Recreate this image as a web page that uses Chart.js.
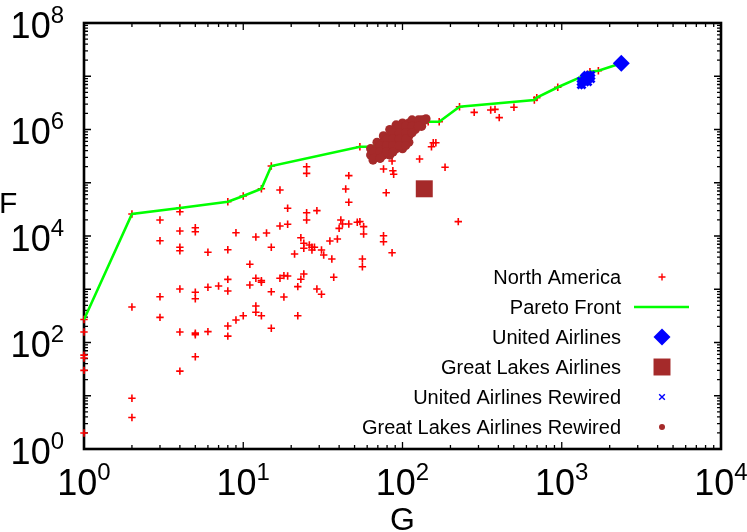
<!DOCTYPE html>
<html>
<head>
<meta charset="utf-8">
<script src="https://cdn.jsdelivr.net/npm/chart.js@4/dist/chart.umd.min.js"></script>
<style>
html,body{margin:0;padding:0;background:#fff;}
canvas{display:block;}
</style>
</head>
<body>
<canvas id="c" width="747" height="532"></canvas>
<script>
// ---- data (G = x, F = y) ----
const northAmericaG = [1,1,1,1,1,1, 2,2,2,2, 3,3,3,3, 4,4,4,4,4,4,4,4, 5,5,5,5,5,5,5, 6,6,6, 7, 8,8,8,8,8,8, 9,9, 10,10, 11,11, 12,12,12,12, 13,13,13,13, 14, 15,15,15,15, 17,17,17, 18,18, 19,19,19, 21, 22,22, 23,23, 24,24,24, 25,25,25,25, 26, 27,27, 28, 29,29, 31,31, 32, 35, 36, 37, 39, 40, 41, 42, 44, 46,46,46, 52, 54,54, 56,56, 57,57, 76,76,76, 79, 86,86, 87, 88, 128, 145, 152, 156, 162, 170, 185, 224, 228, 282, 358, 381, 405, 501, 673, 697, 944, 1503, 1698];
const northAmericaF = [270,157,58,51,30,2, 25900,464,9,3.9, 20000,8160,724,297, 33500,28600,12400,6130,5300,1010,157,29, 14300,12000,877,665,150,140,54, 4940,1090,160, 1150, 44000,5530,1530,927,204,132, 11500,265, 56400,318, 2940,1200, 9570,1610,485,369, 77300,1450,1350,318, 11400, 206000,6130,900,185, 73100,15400,1610, 1800,715, 33100,16600,1770, 4590, 1120,318, 9290,1540, 7290,5870,1930, 200000,150000,27400,20000, 6780, 6130,5460, 6130, 29900,1010, 5460,804, 4400, 8060, 3700, 1680, 8790, 13900, 20000, 16800, 76300, 136000,42900,16800, 18100, 475000,18600, 3700,2650, 15000,10900, 181000,10100,7820, 65000, 256000,4860, 168000, 144000, 279000, 1400000, 475000, 565000, 565000, 1400000, 195000, 18600, 2680000, 2100000, 2320000, 2390000, 1670000, 2610000, 3580000, 3960000, 6210000, 12200000, 12700000];

const paretoG = [1, 2, 4, 8, 10, 13, 15, 54, 64, 145, 170, 228, 673, 697, 944, 1302, 1503, 1698, 2365];
const paretoF = [270, 25900, 33500, 44000, 56400, 77300, 206000, 475000, 475000, 1400000, 1400000, 2680000, 3580000, 3960000, 6210000, 9550000, 12200000, 12700000, 17500000];

const unitedG = [2365];
const unitedF = [17500000];

const greatLakesG = [137];
const greatLakesF = [77000];

const unitedRewiredG = [1302,1302,1302, 1360,1360,1360,1360, 1420,1420,1420,1420, 1483,1483,1483,1483, 1549,1549,1549,
                        1330,1330, 1390,1390,1390, 1451,1451,1451, 1515,1515];
const unitedRewiredF = [8500000,7470000,6560000, 9680000,8500000,7470000,6560000, 11000000,9680000,8500000,7470000, 11000000,9680000,8500000,7470000, 11000000,9680000,8500000,
                        8000000,7000000, 10300000,9070000,7970000, 10300000,9070000,7970000, 10300000,9070000];

const greatLakesRewiredG = [63.1,63.1, 65.3, 69.2,69.2,69.2, 72.2, 75.9,75.9,75.9,75.9, 83.2,83.2,83.2,83.2,83.2, 91.2,91.2,91.2,91.2,91.2, 100,100,100,100,100, 109.6,109.6,109.6,109.6, 120.2,120.2, 131.8,131.8, 140.5,
                            66.1,66.1, 72.4,72.4,72.4, 79.4,79.4,79.4, 87.1,87.1,87.1,87.1, 95.5,95.5,95.5,95.5, 104.7,104.7,104.7,104.7, 114.8,114.8,114.8, 125.9,125.9, 138];
const greatLakesRewiredF = [437000,331000, 267000, 575000,437000,331000, 292000, 759000,575000,437000,331000, 1000000,759000,575000,437000,331000, 1220000,1000000,759000,575000,437000, 1320000,1000000,759000,575000,437000, 1320000,1000000,759000,575000, 1320000,1000000, 1510000,1148000, 1590000,
                            380000,288000, 501000,380000,288000, 661000,501000,380000, 871000,661000,501000,380000, 1148000,871000,661000,501000, 1148000,871000,661000,501000, 1514000,1148000,871000, 1514000,1148000, 1514000];

const seriesNames = ['North America', 'Pareto Front', 'United Airlines', 'Great Lakes Airlines', 'United Airlines Rewired', 'Great Lakes Airlines Rewired'];
const xTickPowers = [0, 1, 2, 3, 4];
const yTickPowers = [0, 2, 4, 6, 8];
const xTitle = 'G';
const yTitle = 'F';

// ---- build ----
const pts = (gs, fs) => gs.map((g, i) => ({x: g, y: fs[i]}));
const FONT = '"Liberation Sans", Arial, Helvetica, sans-serif';
const RED = '#ff0000', GREEN = '#00ff00', BLUE = '#0000ff', BROWN = '#a52a2a';

const legendMarkers = [
  {kind: 'point', style: 'cross', radius: 3.5, width: 1.4, color: RED},
  {kind: 'line', color: GREEN, width: 2.5},
  {kind: 'point', style: 'rectRot', radius: 8.5, width: 0, color: BLUE},
  {kind: 'point', style: 'rect', radius: 12, width: 0, color: BROWN},
  {kind: 'point', style: 'crossRot', radius: 4, width: 1.4, color: BLUE},
  {kind: 'point', style: 'circle', radius: 3, width: 0, color: BROWN}
];

function drawPow(ctx, exp, x, baseY, align) {
  const big = '10', small = String(exp);
  ctx.font = '36px ' + FONT;
  const wb = ctx.measureText(big).width;
  ctx.font = '24px ' + FONT;
  const ws = ctx.measureText(small).width;
  const total = wb + ws;
  const sx = align === 'center' ? x - total / 2 : x - total;
  ctx.textAlign = 'left';
  ctx.textBaseline = 'alphabetic';
  ctx.font = '36px ' + FONT;
  ctx.fillText(big, sx, baseY);
  ctx.font = '24px ' + FONT;
  ctx.fillText(small, sx + wb, baseY - 15);
}

const gnuplotLook = {
  id: 'gnuplotLook',
  beforeDatasetsDraw(chart) {
    const {ctx, chartArea: a, scales} = chart;
    const xs = scales.x, ys = scales.y;
    ctx.save();
    ctx.strokeStyle = '#000';
    ctx.lineWidth = 1.3;
    ctx.beginPath();
    for (let k = 0; k <= 4; k++) {
      for (let m = 1; m <= 9; m++) {
        const v = m * Math.pow(10, k);
        if (v > xs.max) break;
        const px = xs.getPixelForValue(v);
        const L = m === 1 ? 7 : 4;
        ctx.moveTo(px, a.bottom); ctx.lineTo(px, a.bottom - L);
        ctx.moveTo(px, a.top); ctx.lineTo(px, a.top + L);
      }
    }
    for (let k = 0; k <= 8; k++) {
      for (let m = 1; m <= 9; m++) {
        const v = m * Math.pow(10, k);
        if (v > ys.max) break;
        const py = ys.getPixelForValue(v);
        const L = m === 1 ? 7 : 4;
        ctx.moveTo(a.left, py); ctx.lineTo(a.left + L, py);
        ctx.moveTo(a.right, py); ctx.lineTo(a.right - L, py);
      }
    }
    ctx.stroke();
    ctx.lineWidth = 2.6;
    ctx.strokeRect(a.left, a.top, a.right - a.left, a.bottom - a.top);
    ctx.restore();
  },
  afterDraw(chart) {
    const {ctx, chartArea: a, scales} = chart;
    const xs = scales.x, ys = scales.y;
    ctx.save();
    ctx.fillStyle = '#000';
    xTickPowers.forEach(p => drawPow(ctx, p, xs.getPixelForValue(Math.pow(10, p)), 495, 'center'));
    yTickPowers.forEach(p => drawPow(ctx, p, 64, ys.getPixelForValue(Math.pow(10, p)) + 14.5, 'right'));
    // axis titles
    ctx.textBaseline = 'alphabetic';
    ctx.font = '30px ' + FONT;
    ctx.textAlign = 'left';
    ctx.fillText(yTitle, -1, 213);
    ctx.font = '32px ' + FONT;
    ctx.textAlign = 'center';
    ctx.fillText(xTitle, (a.left + a.right) / 2, 530);
    // legend (gnuplot style: right-aligned text, sample on the right)
    ctx.font = '20px ' + FONT;
    ctx.textAlign = 'right';
    ctx.textBaseline = 'middle';
    const textRight = 621, mx = 662, y0 = 277, step = 30;
    seriesNames.forEach((name, i) => {
      const y = y0 + i * step;
      ctx.fillStyle = '#000';
      ctx.fillText(name, textRight, y + 1);
      const m = legendMarkers[i];
      if (m.kind === 'line') {
        ctx.strokeStyle = m.color; ctx.lineWidth = m.width;
        ctx.beginPath(); ctx.moveTo(634, y); ctx.lineTo(689, y); ctx.stroke();
      } else {
        ctx.fillStyle = m.color; ctx.strokeStyle = m.color; ctx.lineWidth = m.width;
        Chart.helpers.drawPoint(ctx, {pointStyle: m.style, radius: m.radius, borderWidth: m.width, rotation: 0}, mx, y);
      }
    });
    ctx.restore();
  }
};

new Chart(document.getElementById('c'), {
  type: 'scatter',
  data: {
    datasets: [
      {label: seriesNames[0], data: pts(northAmericaG, northAmericaF), pointStyle: 'cross', pointRadius: 3.7,
       borderColor: RED, backgroundColor: RED, pointBorderWidth: 1.6, order: 6, clip: false},
      {label: seriesNames[1], data: pts(paretoG, paretoF), showLine: true, pointRadius: 0, borderColor: GREEN,
       backgroundColor: GREEN, borderWidth: 2.6, tension: 0, fill: false, order: 5},
      {label: seriesNames[2], data: pts(unitedG, unitedF), pointStyle: 'rectRot', pointRadius: 8.5,
       borderColor: BLUE, backgroundColor: BLUE, pointBorderWidth: 0, order: 4},
      {label: seriesNames[3], data: pts(greatLakesG, greatLakesF), pointStyle: 'rect', pointRadius: 12,
       borderColor: BROWN, backgroundColor: BROWN, pointBorderWidth: 0, order: 3},
      {label: seriesNames[4], data: pts(unitedRewiredG, unitedRewiredF), pointStyle: 'crossRot', pointRadius: 3.5,
       borderColor: BLUE, backgroundColor: BLUE, pointBorderWidth: 2.8, order: 2},
      {label: seriesNames[5], data: pts(greatLakesRewiredG, greatLakesRewiredF), pointStyle: 'circle', pointRadius: 4.6,
       borderColor: BROWN, backgroundColor: BROWN, pointBorderWidth: 0, order: 1}
    ]
  },
  options: {
    responsive: false,
    devicePixelRatio: 1,
    animation: false,
    events: [],
    layout: {padding: {left: 84, top: 23, right: 26, bottom: 83}},
    plugins: {legend: {display: false}, tooltip: {enabled: false}, title: {display: false}},
    scales: {
      x: {type: 'logarithmic', min: 1, max: 10000, display: false},
      y: {type: 'logarithmic', min: 1, max: 100000000, display: false}
    }
  },
  plugins: [gnuplotLook]
});
</script>
</body>
</html>
